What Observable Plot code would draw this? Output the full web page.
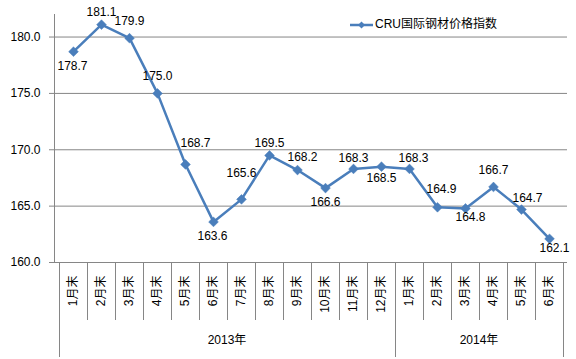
<!DOCTYPE html>
<html>
<head>
<meta charset="utf-8">
<script src="https://cdn.jsdelivr.net/npm/d3@7"></script>
<script src="https://cdn.jsdelivr.net/npm/@observablehq/plot@0.6"></script>
<style>
  html, body { margin: 0; padding: 0; background: #fff; }
  #chart { width: 576px; height: 359px; }
</style>
</head>
<body>
<div id="chart"></div>
<script>
const categories = ["1月末","2月末","3月末","4月末","5月末","6月末","7月末","8月末","9月末","10月末","11月末","12月末","1月末","2月末","3月末","4月末","5月末","6月末"];
const categoryYear = ["2013年","2013年","2013年","2013年","2013年","2013年","2013年","2013年","2013年","2013年","2013年","2013年","2014年","2014年","2014年","2014年","2014年","2014年"];
const values = [178.7, 181.1, 179.9, 175.0, 168.7, 163.6, 165.6, 169.5, 168.2, 166.6, 168.3, 168.5, 168.3, 164.9, 164.8, 166.7, 164.7, 162.1];
const yTicks = [160, 165, 170, 175, 180];
const seriesName = "CRU国际钢材价格指数";

// label placement offsets (style, not data)
const labelDx = [-1, 0, 0, 0, 10, -1, 0, 0, 5, 0, 0, 0, 4, 4, 5, 0, 6, 5];
const labelDy = [14, -12, -17, -17, -21, 14, -26, -12, -13, 14, -11, 11, -11, -18, 9, -17, -11, 9];

const lineColor = "#4a7ebb";
const gridColor = "#868686";
const font = "'Liberation Sans', Arial, 'Noto Sans CJK SC', sans-serif";

const data = values.map((v, i) => ({i, value: v, label: categories[i], year: categoryYear[i]}));
const n = data.length;

const plot = Plot.plot({
  width: 576,
  height: 359,
  marginLeft: 54,
  marginRight: 9,
  marginTop: 14,
  marginBottom: 97,
  style: {fontFamily: font, fontSize: "12px", color: "#000", background: "#fff"},
  x: {type: "band", domain: d3.range(n), padding: 0},
  y: {domain: [160, 182]},
  marks: [
    Plot.gridY(yTicks, {stroke: gridColor, strokeOpacity: 1, strokeWidth: 1}),
    Plot.axisY(yTicks, {tickSize: 5, tickPadding: 9, stroke: gridColor, tickFormat: d => d.toFixed(1), label: null, fill: "#000"}),
    Plot.axisX({tickRotate: -90, tickSize: 0, tickPadding: 13, tickFormat: i => categories[i], label: null, fill: "#000"}),
    Plot.frame({anchor: "left", stroke: gridColor}),
    Plot.line(data, {x: "i", y: "value", stroke: lineColor, strokeWidth: 2.5}),
    Plot.dot(data, {x: "i", y: "value", symbol: "diamond2", r: 4.4, fill: lineColor, stroke: lineColor, strokeWidth: 0.5}),
    ...data.map((d, k) => Plot.text([d], {x: "i", y: "value", text: d => d.value.toFixed(1), dx: labelDx[k], dy: labelDy[k], fill: "#000", fontSize: 12}))
  ]
});

document.getElementById("chart").appendChild(plot);

const NS = "http://www.w3.org/2000/svg";
function el(parent, tag, attrs, txt) {
  const e = document.createElementNS(NS, tag);
  for (const k in attrs) e.setAttribute(k, attrs[k]);
  if (txt != null) e.textContent = txt;
  parent.appendChild(e);
  return e;
}

// category table lines and year labels below the axis
const xs = plot.scale("x");
const ys = plot.scale("y");
const bw = xs.bandwidth;
const y0 = ys.apply(160);
const g = el(plot, "g", {stroke: gridColor, "stroke-width": 1});
const edge = k => (k < n ? xs.apply(k) : xs.apply(n - 1) + bw);
for (let k = 0; k <= n; k++) {
  const isYearEdge = k === 0 || k === n || categoryYear[k] !== categoryYear[k - 1];
  const x = Math.round(edge(k)) + 0.5;
  el(g, "line", {x1: x, x2: x, y1: y0, y2: y0 + (isYearEdge ? 95 : 58)});
}
const years = Array.from(new Set(categoryYear));
years.forEach(yr => {
  const idx = categoryYear.map((c, k) => c === yr ? k : -1).filter(k => k >= 0);
  const cx = (edge(idx[0]) + edge(idx[idx.length - 1] + 1)) / 2;
  el(plot, "text", {x: cx, y: y0 + 79, "text-anchor": "middle", "dominant-baseline": "middle", "font-size": 12, fill: "#000"}, yr);
});

// legend
const lg = el(plot, "g", {});
el(lg, "rect", {x: 350, y: 23.75, width: 23, height: 2.5, fill: lineColor});
el(lg, "rect", {x: 359, y: 22.5, width: 5, height: 5, fill: lineColor, transform: "rotate(45 361.5 25)"});
el(lg, "text", {x: 375, y: 25, "text-anchor": "start", "dominant-baseline": "middle", "font-size": 12, fill: "#000"}, seriesName);
</script>
</body>
</html>
